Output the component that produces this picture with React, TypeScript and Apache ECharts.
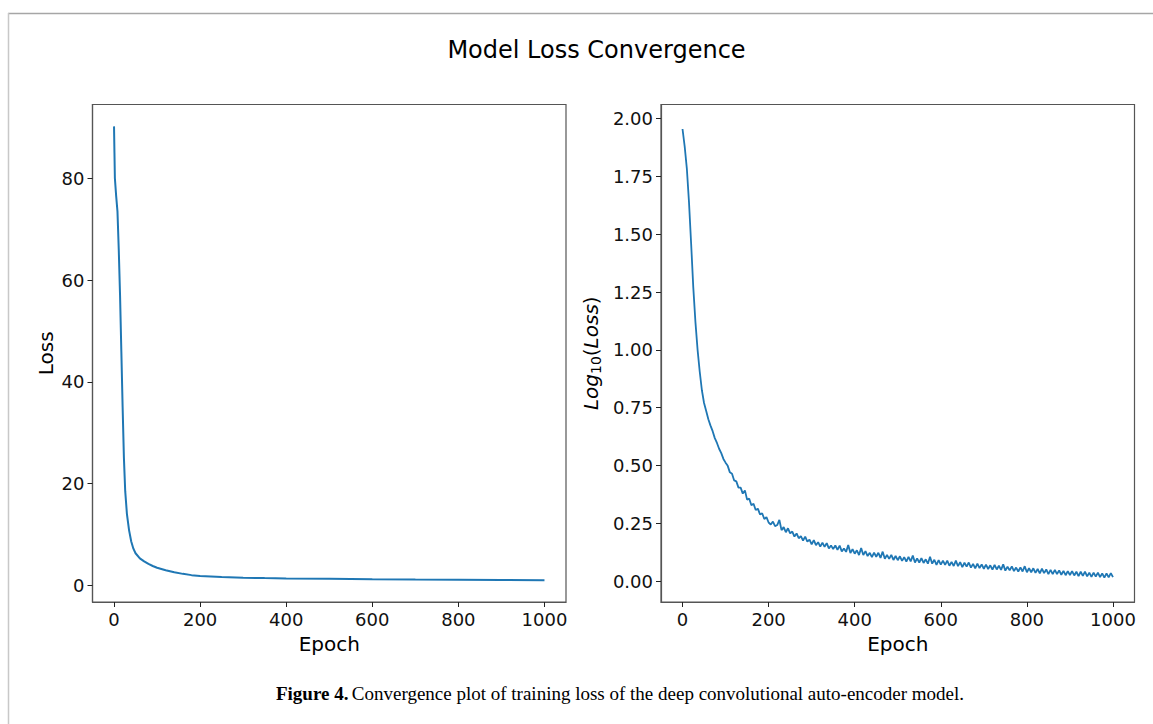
import React, { useEffect, useRef } from "react";
import * as echarts from "echarts";

// ---- data ----
const xTicks = [0, 200, 400, 600, 800, 1000];
const lossTicks = [0, 20, 40, 60, 80];
const logTicks = [0, 0.25, 0.5, 0.75, 1.0, 1.25, 1.5, 1.75, 2.0];

// left panel: [epoch, loss]
const lossEpochs = [0, 1, 2, 5, 8, 11, 14, 17, 20, 23, 26, 30, 35, 40, 45, 50, 60, 70, 80, 90, 100, 120, 140, 160, 180, 200, 250, 300, 350, 400, 500, 600, 700, 800, 900, 1000];
const lossValues = [90.2, 85, 80, 76.5, 73.5, 66, 57, 46, 35, 25, 18.5, 14, 10.8, 8.6, 7.2, 6.3, 5.3, 4.7, 4.2, 3.8, 3.45, 2.95, 2.55, 2.25, 2.0, 1.85, 1.62, 1.5, 1.42, 1.36, 1.27, 1.19, 1.13, 1.08, 1.04, 1.0];

// right panel: log10(loss) every 5 epochs, 0..1000
const logStep = 5;
const logValues = [
  1.955, 1.880, 1.785, 1.640, 1.460, 1.270, 1.120, 1.000, 0.905, 0.825, 0.770, 0.735, 0.700, 0.672, 0.648, 0.618, 0.597, 0.572, 0.553, 0.528, 0.512,
  0.498, 0.470, 0.464, 0.435, 0.431, 0.404, 0.404, 0.378, 0.392, 0.352, 0.356, 0.328, 0.334, 0.307, 0.313, 0.288, 0.293, 0.268, 0.276, 0.253,
  0.244, 0.257, 0.237, 0.242, 0.264, 0.220, 0.233, 0.211, 0.228, 0.206, 0.214, 0.192, 0.206, 0.185, 0.194, 0.175, 0.192, 0.170, 0.179, 0.158,
  0.177, 0.155, 0.168, 0.149, 0.166, 0.148, 0.164, 0.141, 0.154, 0.138, 0.154, 0.135, 0.153, 0.128, 0.141, 0.126, 0.156, 0.121, 0.138, 0.118,
  0.133, 0.112, 0.143, 0.112, 0.129, 0.108, 0.122, 0.103, 0.123, 0.105, 0.122, 0.100, 0.127, 0.096, 0.113, 0.096, 0.113, 0.091, 0.108, 0.090,
  0.107, 0.087, 0.103, 0.084, 0.104, 0.085, 0.110, 0.080, 0.098, 0.080, 0.099, 0.078, 0.094, 0.075, 0.105, 0.075, 0.092, 0.070, 0.090, 0.071,
  0.088, 0.070, 0.088, 0.066, 0.083, 0.065, 0.088, 0.064, 0.082, 0.060, 0.079, 0.062, 0.080, 0.058, 0.074, 0.055, 0.075, 0.056, 0.072, 0.053,
  0.071, 0.052, 0.068, 0.049, 0.070, 0.050, 0.066, 0.048, 0.072, 0.045, 0.062, 0.046, 0.063, 0.043, 0.058, 0.041, 0.059, 0.041, 0.064, 0.038,
  0.055, 0.038, 0.055, 0.035, 0.052, 0.033, 0.053, 0.034, 0.050, 0.030, 0.048, 0.030, 0.048, 0.030, 0.046, 0.027, 0.044, 0.025, 0.043, 0.026,
  0.043, 0.024, 0.040, 0.021, 0.040, 0.022, 0.041, 0.020, 0.036, 0.018, 0.036, 0.019, 0.036, 0.017, 0.033, 0.015, 0.033, 0.016, 0.034, 0.017,
];

const LINE = "#1f77b4";
const FRAME = "#555555";
const SANS = "DejaVu Sans";

export default function App() {
  const ref = useRef<HTMLDivElement>(null);
  useEffect(() => {
    if (!ref.current) return;
    const chart = echarts.init(ref.current, null, { renderer: "svg" });
    const lossData = lossEpochs.map((e, i) => [e, lossValues[i]]);
    const logData = logValues.map((v, i) => [i * logStep, v]);

    const xAxisBase = (grid: number) => ({
      type: "value" as const,
      gridIndex: grid,
      min: -50,
      max: 1050,
      name: "Epoch",
      nameLocation: "middle" as const,
      nameGap: 32,
      nameTextStyle: { fontFamily: SANS, fontSize: 20, color: "#000" },
      axisLine: { show: true, onZero: false, lineStyle: { color: FRAME, width: 1.2 } },
      axisTick: { show: true, length: 5, customValues: xTicks, lineStyle: { color: "#222" } },
      axisLabel: {
        customValues: xTicks,
        fontFamily: SANS,
        fontSize: 18,
        color: "#111",
        margin: 8,
        formatter: (v: number) => String(v),
      },
      splitLine: { show: false },
    });

    const option: any = {
      animation: false,
      backgroundColor: "#fff",
      grid: [
        { left: 92.5, top: 104.5, width: 473.5, height: 497.5, show: true, borderColor: FRAME, borderWidth: 1.2, containLabel: false },
        { left: 661, top: 104.5, width: 473.5, height: 497.5, show: true, borderColor: FRAME, borderWidth: 1.2, containLabel: false },
      ],
      xAxis: [xAxisBase(0), xAxisBase(1)],
      yAxis: [
        {
          type: "value",
          gridIndex: 0,
          min: -3.28,
          max: 94.5,
          name: "Loss",
          nameLocation: "middle",
          nameGap: 37,
          nameTextStyle: { fontFamily: SANS, fontSize: 20, color: "#000" },
          axisLine: { show: true, onZero: false, lineStyle: { color: FRAME, width: 1.2 } },
          axisTick: { show: true, length: 5, customValues: lossTicks, lineStyle: { color: "#222" } },
          axisLabel: { customValues: lossTicks, fontFamily: SANS, fontSize: 18, color: "#111", margin: 8 },
          splitLine: { show: false },
        },
        {
          type: "value",
          gridIndex: 1,
          min: -0.0908,
          max: 2.061,
          name: "{i|Log}{s|10}{n|(}{i|Loss}{n|)}",
          nameLocation: "middle",
          nameGap: 58,
          nameTextStyle: {
            fontFamily: SANS,
            fontSize: 20,
            color: "#000",
            rich: {
              i: { fontFamily: SANS, fontStyle: "italic", fontSize: 20, color: "#000" },
              n: { fontFamily: SANS, fontSize: 20, color: "#000" },
              s: { fontFamily: SANS, fontSize: 14, color: "#000", padding: [10, 0, 0, 0] },
            },
          },
          axisLine: { show: true, onZero: false, lineStyle: { color: FRAME, width: 1.2 } },
          axisTick: { show: true, length: 5, customValues: logTicks, lineStyle: { color: "#222" } },
          axisLabel: {
            customValues: logTicks,
            fontFamily: SANS,
            fontSize: 18,
            color: "#111",
            margin: 8,
            formatter: (v: number) => v.toFixed(2),
          },
          splitLine: { show: false },
        },
      ],
      series: [
        {
          type: "line",
          xAxisIndex: 0,
          yAxisIndex: 0,
          data: lossData,
          showSymbol: false,
          smooth: false,
          lineStyle: { color: LINE, width: 2 },
        },
        {
          type: "line",
          xAxisIndex: 1,
          yAxisIndex: 1,
          data: logData,
          showSymbol: false,
          smooth: false,
          lineStyle: { color: LINE, width: 1.8 },
        },
      ],
      graphic: [
        { type: "line", shape: { x1: 8, y1: 13.5, x2: 1153, y2: 13.5 }, style: { stroke: "#a6a6a6", lineWidth: 1.5 } },
        { type: "line", shape: { x1: 8.5, y1: 13, x2: 8.5, y2: 724 }, style: { stroke: "#c8c8c8", lineWidth: 1.5 } },
        {
          type: "text",
          x: 596.5,
          y: 50,
          style: { text: "Model Loss Convergence", fontFamily: SANS, fontSize: 24, fill: "#000", align: "center", verticalAlign: "middle" },
        },
        {
          type: "text",
          x: 620,
          y: 693,
          style: {
            text: "{b|Figure 4.} {r|Convergence plot of training loss of the deep convolutional auto-encoder model.}",
            align: "center",
            verticalAlign: "middle",
            rich: {
              b: { fontFamily: "Liberation Serif", fontWeight: "bold", fontSize: 19, fill: "#000" },
              r: { fontFamily: "Liberation Serif", fontSize: 19, fill: "#000" },
            },
          },
        },
      ],
    };
    chart.setOption(option);
    return () => chart.dispose();
  }, []);
  return <div ref={ref} style={{ position: "fixed", left: 0, top: 0, width: 1153, height: 724 }} />;
}
